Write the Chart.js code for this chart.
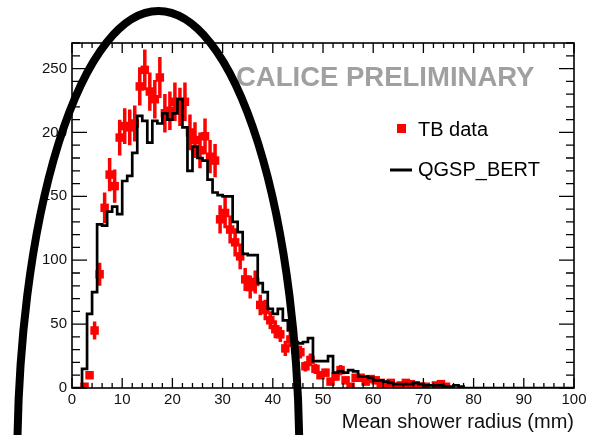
<!DOCTYPE html>
<html>
<head>
<meta charset="utf-8">
<title>Mean shower radius</title>
<script src="https://cdn.jsdelivr.net/npm/chart.js@4.4.1/dist/chart.umd.min.js"></script>
<style>
  html, body { margin: 0; padding: 0; background: #fff; }
  #wrap { width: 590px; height: 435px; position: relative; }
</style>
</head>
<body>
<div id="wrap"><canvas id="radius"></canvas></div>
<script>
// Mean shower radius histograms, 1 mm bins from 0 to 100 mm
const BIN_WIDTH = 1;

// test beam data (null = empty bin, not drawn)
const tbCounts = [
  null, null, 1, 10, 45, 89, 141, 167, 158, 196,
  205, 204, 207, 236, 249, 232, 226, 243, 215, 217,
  224, 220, 224, 200, 194, 186, 197, 181, 178, 132,
  137, 124, 114, 103, 85, 79, 83, 65, 61, 53,
  46, 42, 31, 38, 30, 28, 17, 22, 15, 10,
  12, 5, 9, 14, 6, 1, 8, 8, 5, 7,
  6, 4, 2, 4, 1, 2, 4, 3, 2, 1,
  1, null, 2, 3, 1, null, null, null, null, null,
  null, null, null, null, null, null, null, null, null, null,
  null, null, null, null, null, null, null, null, null, null
];
const tbErrors = [
  0, 0, 1, 3, 7, 9, 12, 13, 13, 14,
  14, 14, 14, 15, 16, 15, 15, 16, 15, 15,
  15, 15, 15, 14, 14, 14, 14, 13, 13, 11,
  12, 11, 11, 10, 9, 9, 9, 8, 8, 7,
  7, 6, 6, 6, 5, 5, 4, 5, 4, 3,
  3, 2, 3, 4, 2, 1, 3, 3, 2, 3,
  2, 2, 1, 2, 1, 1, 2, 2, 1, 1,
  1, 0, 1, 2, 1, 0, 0, 0, 0, 0,
  0, 0, 0, 0, 0, 0, 0, 0, 0, 0,
  0, 0, 0, 0, 0, 0, 0, 0, 0, 0
];

// QGSP_BERT simulation
const mcCounts = [
  0, 0, 0, 15, 58, 75, 128, 127, 138, 142,
  136, 162, 166, 184, 213, 209, 192, 209, 207, 215,
  210, 215, 226, 204, 170, 189, 180, 178, 163, 153,
  151, 150, 150, 130, 122, 105, 104, 104, 82, 75,
  62, 58, 62, 53, 45, 36, 35, 36, 39, 21,
  21, 21, 25, 12, 13, 12, 14, 13, 9, 9,
  8, 6, 6, 5, 4, 3, 3, 3, 3, 4,
  3, 2, 2, 2, 2, 1, 1, 2, 1, 0,
  0, 0, 0, 0, 0, 0, 0, 0, 0, 0,
  0, 0, 0, 0, 0, 0, 0, 0, 0, 0
];

const xTicks = [0, 10, 20, 30, 40, 50, 60, 70, 80, 90, 100];
const yTicks = [0, 50, 100, 150, 200, 250];
const X_MINOR = 2, Y_MINOR = 10;

// hand-drawn ring, in axis units
const ring = { x: 17.2, y: -58, rx: 28.1, ry: 353 };

const tbPoints = tbCounts
  .map((v, i) => ({ x: (i + 0.5) * BIN_WIDTH, y: v, err: tbErrors[i] }))
  .filter(p => p.y !== null);

const mcPoints = mcCounts.map((v, i) => ({ x: i * BIN_WIDTH, y: v }));
mcPoints.push({ x: mcCounts.length * BIN_WIDTH, y: mcCounts[mcCounts.length - 1] });

const FONT = "'Liberation Sans', Arial, sans-serif";

// vertical error bars on the data points
const errorBars = {
  id: 'errorBars',
  afterDatasetDraw(chart, args) {
    if (args.index !== 0) return;
    const { ctx, scales: { y } } = chart;
    ctx.save();
    ctx.strokeStyle = '#ff0000';
    ctx.lineWidth = 3.5;
    ctx.beginPath();
    args.meta.data.forEach((el, i) => {
      const p = tbPoints[i];
      if (!p.err) return;
      ctx.moveTo(el.x, y.getPixelForValue(p.y - p.err));
      ctx.lineTo(el.x, y.getPixelForValue(p.y + p.err));
    });
    ctx.stroke();
    ctx.restore();
  }
};

// frame with inward ticks on all four sides, legend, label and ring
const decorations = {
  id: 'decorations',
  afterDraw(chart) {
    const { ctx, chartArea: a, scales: { x, y } } = chart;
    ctx.save();

    ctx.strokeStyle = '#000';
    ctx.lineWidth = 1.6;
    ctx.strokeRect(a.left, a.top, a.right - a.left, a.bottom - a.top);

    ctx.lineWidth = 1.3;
    ctx.beginPath();
    for (let v = x.min; v <= x.max + 1e-6; v += X_MINOR) {
      const px = x.getPixelForValue(v);
      const len = xTicks.includes(v) ? 10 : 5;
      ctx.moveTo(px, a.bottom); ctx.lineTo(px, a.bottom - len);
      ctx.moveTo(px, a.top); ctx.lineTo(px, a.top + len);
    }
    for (let v = y.min; v <= y.max + 1e-6; v += Y_MINOR) {
      const py = y.getPixelForValue(v);
      const len = yTicks.includes(v) ? 15 : 8;
      ctx.moveTo(a.left, py); ctx.lineTo(a.left + len, py);
      ctx.moveTo(a.right, py); ctx.lineTo(a.right - len, py);
    }
    ctx.stroke();

    // preliminary stamp
    ctx.fillStyle = '#a0a0a0';
    ctx.font = 'bold 27.5px ' + FONT;
    ctx.textBaseline = 'middle';
    ctx.textAlign = 'left';
    ctx.fillText('CALICE PRELIMINARY', 236, 78);

    // legend
    const [tb, mc] = chart.data.datasets;
    ctx.font = '20px ' + FONT;
    ctx.fillStyle = tb.backgroundColor;
    ctx.fillRect(397, 124, 9, 9);
    ctx.fillStyle = '#000';
    ctx.fillText(tb.label, 418, 130);
    ctx.strokeStyle = mc.borderColor;
    ctx.lineWidth = 3;
    ctx.beginPath();
    ctx.moveTo(390, 170); ctx.lineTo(412, 170);
    ctx.stroke();
    ctx.fillText(mc.label, 418, 170);

    // ring
    const cx = x.getPixelForValue(ring.x);
    const cy = y.getPixelForValue(ring.y);
    const rx = Math.abs(x.getPixelForValue(ring.x + ring.rx) - cx);
    const ry = Math.abs(y.getPixelForValue(ring.y + ring.ry) - cy);
    ctx.strokeStyle = '#000';
    ctx.lineWidth = 8;
    ctx.beginPath();
    ctx.ellipse(cx, cy, rx, ry, 0, 0, Math.PI * 2);
    ctx.stroke();

    ctx.restore();
  }
};

new Chart(document.getElementById('radius'), {
  data: {
    datasets: [
      {
        type: 'scatter',
        label: 'TB data',
        data: tbPoints,
        backgroundColor: '#ff0000',
        borderColor: '#ff0000',
        borderWidth: 0,
        pointStyle: 'rect',
        pointRadius: 6,
        order: 1
      },
      {
        type: 'line',
        label: 'QGSP_BERT',
        data: mcPoints,
        borderColor: '#000000',
        borderWidth: 2.7,
        stepped: 'after',
        pointRadius: 0,
        fill: false,
        order: 0
      }
    ]
  },
  options: {
    responsive: true,
    maintainAspectRatio: false,
    animation: false,
    layout: { padding: { top: 43, right: 16, left: 0, bottom: 0 } },
    plugins: { legend: { display: false }, tooltip: { enabled: false } },
    scales: {
      x: {
        type: 'linear',
        min: 0,
        max: 100,
        afterBuildTicks: s => { s.ticks = xTicks.map(v => ({ value: v })); },
        afterFit: s => { s.height = 47; },
        grid: { display: false, drawTicks: false },
        border: { display: false },
        ticks: {
          autoSkip: false,
          maxRotation: 0,
          padding: 3,
          color: '#111',
          font: { family: FONT, size: 15 }
        },
        title: {
          display: true,
          text: 'Mean shower radius (mm)',
          align: 'end',
          color: '#111',
          font: { family: FONT, size: 20 },
          padding: { top: 0, bottom: 1 }
        }
      },
      y: {
        type: 'linear',
        min: 0,
        max: 270,
        afterBuildTicks: s => { s.ticks = yTicks.map(v => ({ value: v })); },
        afterFit: s => { s.width = 72; },
        grid: { display: false, drawTicks: false },
        border: { display: false },
        ticks: {
          padding: 5,
          color: '#111',
          font: { family: FONT, size: 15 }
        }
      }
    }
  },
  plugins: [errorBars, decorations]
});
</script>
</body>
</html>
